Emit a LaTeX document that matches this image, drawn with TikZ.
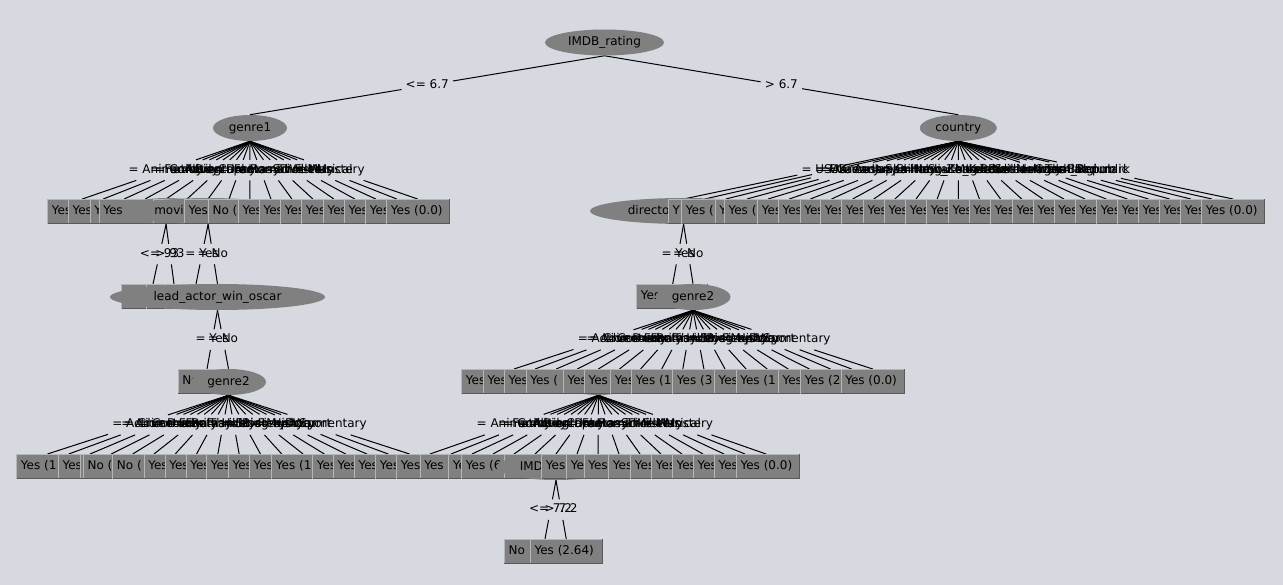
\documentclass[tikz,border=0pt]{standalone}
\usepackage{fontspec}
\setmainfont{DejaVu Sans}
\usetikzlibrary{shapes.geometric}
\pgfdeclarelayer{bg}
\pgfdeclarelayer{edges}
\pgfsetlayers{bg,edges,main}

\definecolor{bgcol}{RGB}{214,217,223}
\definecolor{nodegray}{RGB}{128,128,128}
\definecolor{hicol}{RGB}{182,182,182}
\definecolor{locol}{RGB}{89,89,89}

\tikzset{
  every node/.style={font=\fontsize{9}{11}\selectfont},
  inner/.style={ellipse, fill=nodegray, draw=none, inner sep=0pt,
    minimum height=19.5pt, text height=7pt, text depth=2pt},
  leaf/.style={rectangle, fill=nodegray, draw=none, inner sep=0pt, minimum height=18pt},
  leaftext/.style={anchor=west, inner sep=0pt, text height=7pt, text depth=2pt},
  edgelab/.style={inner xsep=3pt, inner ysep=0pt, minimum height=15pt,
    text height=7pt, text depth=2pt},
  conn/.style={draw=black, line width=0.75pt},
  hiline/.style={draw=hicol, line width=0.75pt},
  loline/.style={draw=locol, line width=0.75pt},
}

% leaf box: name, left x, right x, top y, text
\newcommand\leafnode[5]{%
  \node[leaf, minimum width={(#3-#2)*0.75pt}, anchor=north west] (#1) at (#2,#4) {};
  \draw[hiline] (#1.south west) -- (#1.north west) -- (#1.north east);
  \draw[loline] (#1.south west) -- (#1.south east) -- (#1.north east);
  \node[leaftext] (#1-t) at ([xshift=3pt]#1.west) {#5};
}
% a row of leaves: prefix, top y, list left/right/text
\newcommand\leafrow[3]{%
  \foreach \l/\r/\t [count=\k] in {#3} {\leafnode{#1\k}{\l}{\r}{#2}{\t}}%
}
% labelled connector: parent, label name, child point, label text
\newcommand\treeedge[4]{%
  \path (#1.south) -- (#3) node[midway, edgelab] (#2) {#4};
  \draw[conn] (#1.south) -- (#2) (#2) -- (#3);
}
% fan of labelled connectors: parent, prefix, first x, step, child top y, values
\newcommand\treefan[6]{%
  \foreach \lab [count=\k from 0] in {#6} {
    \coordinate (#2\k) at ({#3+#4*\k}, #5);
    \path (#1.south) -- (#2\k) node[midway, edgelab] (#2l\k) {= \lab};
    \draw[conn] (#1.south) -- (#2l\k) (#2l\k) -- (#2\k);
  }%
}

\begin{document}
\begin{tikzpicture}[x=0.75pt,y=-0.75pt]
\useasboundingbox (0,0) rectangle (1283,585);
\begin{pgfonlayer}{bg}
  \fill[bgcol] (0,0) rectangle (1283,585);
\end{pgfonlayer}

% top levels
\node[inner, minimum width={119*0.75pt}] (root) at (604.5,42.5) {IMDB\_rating};
\node[inner, minimum width={74*0.75pt}] (g1) at (250,128) {genre1};
\node[inner, minimum width={77*0.75pt}] (cty) at (958.3,128) {country};

% level 2, genre1 side
\leafrow{a}{199}{47.7/68.3/Yes, 68.3/90/Yes, 90/99/Y, 99/153/Yes}
\node[inner, minimum width={85*0.75pt}] (nn) at (166.1,211) {};
\leafnode{a5}{153}{184.3}{199}{}
\node[inner, minimum width={168*0.75pt}] (mm) at (208.1,211) {};
\node[leaftext] (mm-t) at (154,211) {movi};
\leafrow{aa}{199}{184.3/208.3/Yes, 208.3/238.3/No (, 238.3/259.3/Yes,
  259.3/280.7/Yes, 280.7/301.7/Yes, 301.7/323.3/Yes, 323.3/344.3/Yes,
  344.3/365.7/Yes, 365.7/386.7/Yes, 386.7/449.3/Yes (0.0)}

% level 2, country side
\node[inner, minimum width={187*0.75pt}] (dir) at (683.6,211) {};
\node[leaftext] (dir-t) at (627.6,211) {directo};
\leafrow{b}{199}{668.3/681.7/Y, 681.7/715/Yes (, 715/724.3/Y, 724.3/757.7/Yes (,
  757.7/778.3/Yes, 778.3/800/Yes, 800/820.7/Yes, 820.7/841.7/Yes,
  841.7/863.3/Yes, 863.3/884.3/Yes, 884.3/905.7/Yes, 905.7/926.7/Yes,
  926.7/948.3/Yes, 948.3/969/Yes, 969/990.7/Yes, 990.7/1012.3/Yes,
  1012.3/1033.3/Yes, 1033.3/1054/Yes, 1054/1075/Yes, 1075/1096.7/Yes,
  1096.7/1117.7/Yes, 1117.7/1138.3/Yes, 1138.3/1159.3/Yes, 1159.3/1180.7/Yes,
  1180.7/1201.7/Yes, 1201.7/1264.3/Yes (0.0)}

% level 3
\leafrow{c}{284}{121.7/146.7/, 146.7/165.5/, 165.5/226.7/}
\node[inner, minimum width={215*0.75pt}] (lead) at (217.5,297) {lead\_actor\_win\_oscar};
\leafnode{d1}{636.7}{707}{284}{Yes}
\node[inner, minimum width={75*0.75pt}] (g2r) at (693,297) {genre2};

% level 4
\leafnode{e0}{178}{235}{369}{No}
\node[inner, minimum width={75*0.75pt}] (g2l) at (228.5,382) {genre2};
\leafrow{e}{369}{461.7/483.3/Yes, 483.3/504.3/Yes, 504.3/526/Yes, 526/563.3/Yes (}
\node[inner, minimum width={74*0.75pt}] (gg) at (598.4,382) {};
\leafrow{ee}{369}{563.3/584.3/Yes, 584.3/610.7/Yes, 610.7/631.7/Yes,
  631.7/672.7/Yes (1, 672.7/714.3/Yes (3, 714.3/736/Yes, 736/778.3/Yes (1,
  778.3/800.7/Yes, 800.7/841/Yes (2, 841/904.3/Yes (0.0)}

% level 5
\leafrow{f}{454}{16.7/58.3/Yes (1, 58.3/80/Yes, 80/83.3/, 83.3/112.7/No (,
  112.7/144/No (, 144/165/Yes, 165/186/Yes, 186/206.7/Yes, 206.7/228.3/Yes,
  228.3/249.3/Yes, 249.3/271.7/Yes, 271.7/312.7/Yes (1, 312.7/333.3/Yes,
  333.3/354.3/Yes, 354.3/375.7/Yes, 375.7/396.7/Yes}
\leafrow{h}{454}{396.7/420/Yes, 420/448.7/Yes, 448.7/461.7/Ye, 461.7/504/Yes (6, 504/541.7/}
\node[inner, minimum width={119*0.75pt}] (imdb) at (556,467) {};
\node[leaftext] (imdb-t) at (519.5,467) {IMD};
\leafrow{hh}{454}{541.7/566.7/Yes, 566.7/584/Yes, 584/608.7/Yes, 608.7/630.7/Yes,
  630.7/651.7/Yes, 651.7/672.3/Yes, 672.3/693.3/Yes, 693.3/714.3/Yes,
  714.3/736.3/Yes, 736.3/799.3/Yes (0.0)}

% level 6
\leafnode{k1}{504.3}{530.3}{539}{No}
\leafnode{k2}{530.3}{601.7}{539}{Yes (2.64)}

% child points of the binary splits
\coordinate (n1) at (153,284);
\coordinate (n2) at (174,284);
\coordinate (m1) at (196,284);
\coordinate (d0) at (672.7,284);
\coordinate (l0) at (207,369);
\coordinate (i0) at (545,539);

\begin{pgfonlayer}{edges}
  \treeedge{root}{rl1}{g1.north}{<= 6.7}
  \treeedge{root}{rl2}{cty.north}{> 6.7}
  \treefan{g1}{ga}{82.3}{20.96}{199}{Animation, Family, Comedy, Action, Adventure,
    Biography, Crime, Drama, Fantasy, Horror, Romance, Sci-Fi, Thriller, Western,
    War, Musical, Mystery}
  \treefan{cty}{ca}{683.6}{21.13}{199}{USA, UK, France, Canada, Germany, Australia,
    Japan, Spain, China, Italy, India, Hong\_Kong, New\_Zealand, South\_Korea, Mexico,
    Ireland, Brazil, Russia, Sweden, Netherlands, Norway, Iran, Argentina, Thailand,
    Czech\_Republic, Belgium, Denmark}
  \treeedge{nn}{nl1}{n1}{<= 93}
  \treeedge{nn}{nl2}{n2}{> 93}
  \treeedge{mm}{ml1}{m1}{= Yes}
  \treeedge{mm}{ml2}{lead.north}{= No}
  \treeedge{dir}{dl1}{d0}{= Yes}
  \treeedge{dir}{dl2}{g2r.north}{= No}
  \treeedge{lead}{ll1}{l0}{= Yes}
  \treeedge{lead}{ll2}{g2l.north}{= No}
  \treefan{g2r}{ra}{514}{21.1}{369}{Action, Crime, Adventure, Comedy, Drama, Family,
    Fantasy, Romance, Thriller, Horror, Sci-Fi, Mystery, Biography, Music, History,
    War, Sport, Documentary}
  \treefan{g2l}{la}{47.45}{21.3}{454}{Action, Crime, Adventure, Comedy, Drama, Family,
    Fantasy, Romance, Thriller, Horror, Sci-Fi, Mystery, Biography, Music, History,
    War, Sport, Documentary}
  \treefan{gg}{ma}{430}{21}{454}{Animation, Family, Comedy, Action, Adventure,
    Biography, Crime, Drama, Fantasy, Horror, Romance, Sci-Fi, Thriller, Western,
    War, Musical, Mystery}
  \treeedge{imdb}{il1}{i0}{<= 7.2}
  \treeedge{imdb}{il2}{k2.north}{> 7.2}
\end{pgfonlayer}
\end{tikzpicture}
\end{document}
